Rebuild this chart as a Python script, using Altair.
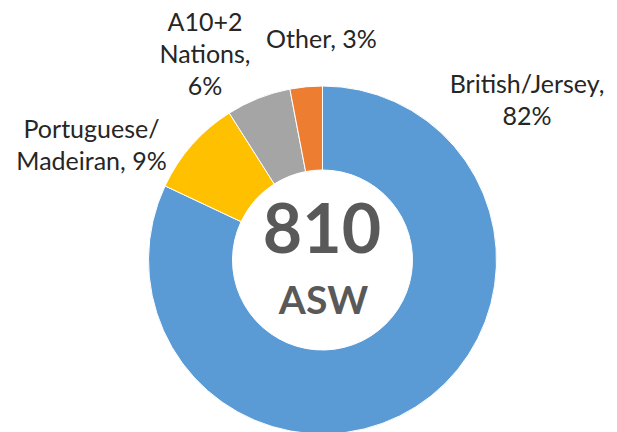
import altair as alt
import pandas as pd

# ---- data ----
categories = ["British/Jersey", "Portuguese/Madeiran", "A10+2 Nations", "Other"]
shares = [82, 9, 6, 3]
colors = ["#5B9BD5", "#FFC000", "#A5A5A5", "#ED7D31"]
label_text = ["British/Jersey,\n82%", "Portuguese/\nMadeiran, 9%", "A10+2\nNations,\n6%", "Other, 3%"]
total_value = "810"
total_unit = "ASW"

# ---- layout (pixel positions of labels, chart coords) ----
label_x = [519, 83.5, 197, 313.5]
label_y = [85, 129.5, 22.5, 40.3]
cx, cy = 314.5, 252

df = pd.DataFrame({"category": categories, "share": shares, "idx": list(range(len(categories)))})
lab = pd.DataFrame({"label": label_text, "lx": label_x, "ly": label_y})

arc = alt.Chart(df).mark_arc(
    outerRadius=174, innerRadius=90, stroke="white", strokeWidth=1, x=cx, y=cy
).encode(
    theta=alt.Theta("share:Q", stack=True),
    color=alt.Color("category:N", scale=alt.Scale(domain=categories, range=colors), legend=None),
    order=alt.Order("idx:Q"),
)

labels = alt.Chart(lab).mark_text(
    font="Lato", fontSize=25, color="#262626", align="center", baseline="alphabetic",
    lineBreak="\n", lineHeight=32,
).encode(
    x=alt.X("lx:Q", scale=None),
    y=alt.Y("ly:Q", scale=None),
    text="label:N",
)

big = alt.Chart(pd.DataFrame({"t": [total_value]})).mark_text(
    font="Lato", fontSize=68, fontWeight="bold", color="#595959", align="center",
    baseline="alphabetic", x=cx - 0.5, y=245.3,
).encode(text="t:N")

unit = alt.Chart(pd.DataFrame({"t": [total_unit]})).mark_text(
    font="Lato", fontSize=39, fontWeight="bold", color="#595959", align="center",
    baseline="alphabetic", x=cx + 1, y=306.3,
).encode(text="t:N")

chart = alt.layer(arc, labels, big, unit).properties(
    width=601, height=424, padding=0, autosize=alt.AutoSizeParams(type="none")
).configure_view(stroke=None)

chart.save("out.html", embed_options={"renderer": "svg", "actions": False})
